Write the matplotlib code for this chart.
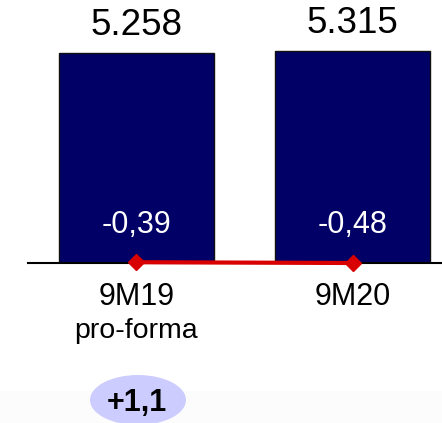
import numpy as np
import matplotlib.pyplot as plt
from matplotlib.patches import Ellipse, Rectangle

plt.rcParams['font.family'] = ['Liberation Sans', 'DejaVu Sans']

# data
periods = ['9M19', '9M20']
sub_labels = ['pro-forma', '']
revenue = [5258, 5315]
revenue_labels = ['5.258', '5.315']
margin = [-0.39, -0.48]
margin_labels = ['-0,39', '-0,48']
delta_label = '+1,1'

W, H = 442, 423
fig = plt.figure(figsize=(W / 100, H / 100), dpi=100)

# faint band at the bottom
fig.patches.append(Rectangle((0, 0), 1, 32 / H, transform=fig.transFigure,
                             facecolor='#fcfcfd', edgecolor='none', zorder=0))

base = 263
ax = fig.add_axes([28 / W, (H - base) / H, 1 - 28 / W, base / H])
ax.patch.set_alpha(0)
x = np.arange(len(periods))
ax.bar(x, revenue, width=0.718, color='#000066', edgecolor='#111111', linewidth=1, zorder=2)
ax.set_ylim(0, 5315 * base / 212)
ax.set_xlim(-0.502, 1.414)
for s in ['top', 'right', 'left']:
    ax.spines[s].set_visible(False)
ax.spines['bottom'].set_linewidth(1.5)
ax.set_xticks([])
ax.set_yticks([])

for xi, v, lab in zip(x, revenue, revenue_labels):
    ax.text(xi, v + 690, lab, ha='center', va='center', fontsize=26.5, color='black')

for xi, lab in zip(x, margin_labels):
    ax.text(xi, 963, lab, ha='center', va='center', fontsize=22, color='white', zorder=4)

for xi, p, sl in zip(x, periods, sub_labels):
    ax.text(xi, -0.13, p, ha='center', va='center', fontsize=22,
            transform=ax.get_xaxis_transform(), clip_on=False)
    if sl:
        ax.text(xi, -0.26, sl, ha='center', va='center', fontsize=20.5,
                transform=ax.get_xaxis_transform(), clip_on=False)

# margin line on a secondary axis
ax2 = ax.twinx()
ax2.plot(x, margin, color='#d90000', lw=3, marker='D', markersize=8.5,
         clip_on=False, zorder=5)
ax2.set_ylim(-0.48, 30)
ax2.axis('off')

# delta bubble
fig.patches.append(Ellipse((138 / W, (H - 400) / H), 96 / W, 50 / H,
                           transform=fig.transFigure, facecolor='#ccccff',
                           edgecolor='none', zorder=1))
fig.text(137 / W, (H - 403) / H, delta_label, ha='center', va='center',
         fontsize=22, fontweight='bold')

fig.savefig('out.png', dpi=100)
